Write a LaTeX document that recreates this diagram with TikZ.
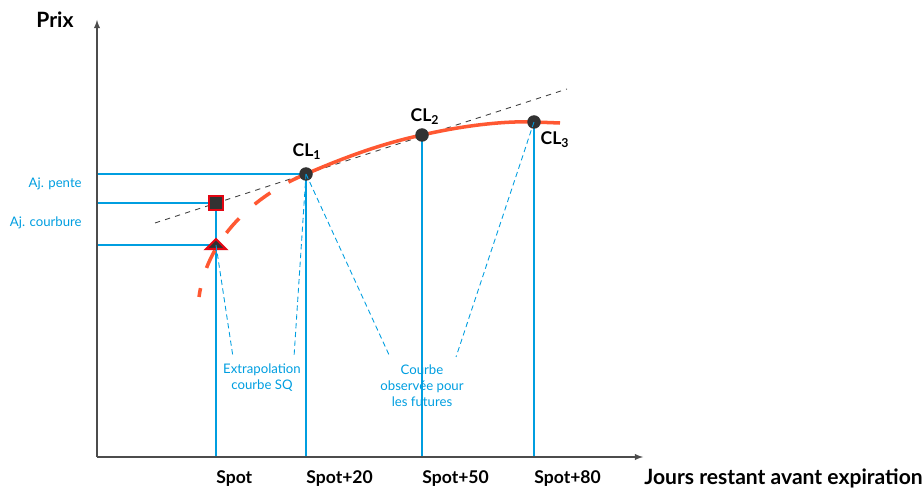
\documentclass[tikz,border=0pt]{standalone}
\usepackage{fontspec}
\setmainfont{Lato}
\usepackage{tikz}
\usetikzlibrary{arrows,positioning,calc,backgrounds}
\definecolor{bleu}{RGB}{0,158,224}
\definecolor{orangec}{RGB}{255,88,50}
\definecolor{rouge}{RGB}{227,6,19}
\definecolor{noir}{RGB}{50,50,50}

\begin{document}
\begin{tikzpicture}[x=0.02cm,y=-0.02cm,
    axe/.style={draw=black!70, line width=0.6pt, -latex},
    repere/.style={draw=bleu, line width=0.6pt},
    lien/.style={draw=bleu, densely dashed, line width=0.5pt},
    courbe/.style={draw=orangec, line width=2pt},
    pt/.style={circle, fill=noir, inner sep=0pt, minimum size=0.27cm},
    carre/.style={rectangle, fill=noir, draw=rouge, line width=1.3pt, inner sep=0pt, minimum size=0.28cm},
    lbl/.style={font=\bfseries\fontsize{10}{12}\selectfont, inner sep=0pt},
    titre/.style={font=\bfseries\fontsize{12}{14}\selectfont, inner sep=0pt},
    txt/.style={text=bleu, font=\fontsize{7.5}{9.2}\selectfont, align=center, inner sep=0pt}]

    \useasboundingbox (0,0) rectangle (922,489);

    % axes
    \coordinate (O) at (97,457);
    \draw[axe] (O) -- (97,20);
    \draw[axe] (O) -- (643,457);
    \node[titre] (prix) at (55,20) {Prix};
    \node[titre, anchor=west] (jours) at (644,478) {Jours restant avant expiration};

    % points de la courbe
    \node[pt] (cl1) at (306,174) {};
    \node[pt] (cl2) at (422,135) {};
    \node[pt] (cl3) at (534,122) {};
    \node[lbl] (lcl1) at (307,152) {CL\textsubscript{1}};
    \node[lbl] (lcl2) at (425,117) {CL\textsubscript{2}};
    \node[lbl] (lcl3) at (555,140) {CL\textsubscript{3}};

    % ajustements
    \node[carre] (sq) at (216,203) {};
    \coordinate (tri) at (216,245);
    \filldraw[fill=noir, draw=rouge, line width=1.2pt, line join=miter]
        ($(tri)+(-10,4)$) -- ($(tri)+(0,-6)$) -- ($(tri)+(10,4)$) -- cycle;

    \begin{scope}[on background layer]
        \draw[repere] (O |- cl1) -- (cl1.center);
        \draw[repere] (O |- sq) -- (sq.center);
        \draw[repere] (O |- tri) -- (tri);
        \draw[repere] (sq.center) -- (sq |- O);
        \draw[repere] (cl1.center) -- (cl1 |- O);
        \draw[repere] (cl2.center) -- (cl2 |- O);
        \draw[repere] (cl3.center) -- (cl3 |- O);

        % tangente
        \coordinate (tg1) at (155,223);
        \coordinate (tg2) at (567,89);
        \draw[dashed, black!75, line width=0.5pt] (tg1) -- (tg2);

        % courbe observee et extrapolation
        \draw[courbe] (cl1.center) .. controls (350,155) and (385,143) .. (cl2.center)
            .. controls (470,124) and (510,121) .. (cl3.center) -- (560,123);
        \draw[courbe, dash pattern=on 11pt off 12pt] (cl1.center) .. controls (255,195) and (207,238) .. (199,297);
    \end{scope}

    % textes
    \node[txt, anchor=east] (pente) at (82,184) {Aj. pente};
    \node[txt, anchor=east] (courbure) at (82,223) {Aj. courbure};
    \node[txt] (extra) at (262,378) {Extrapolation\\courbe SQ};
    \node[txt] (obs) at (422,386) {Courbe\\observée pour\\les futures};

    \node[lbl, anchor=west] (s0) at (216,479) {Spot};
    \node[lbl, anchor=west] (s20) at (306,479) {Spot+20};
    \node[lbl, anchor=west] (s50) at (422,479) {Spot+50};
    \node[lbl, anchor=west] (s80) at (534,479) {Spot+80};

    % renvois
    \coordinate (e1) at (233,357);
    \coordinate (e2) at (294,357);
    \coordinate (o1) at (390,357);
    \coordinate (o2) at (456,357);
    \draw[lien] (tri) -- (e1);
    \draw[lien] (cl1.center) -- (e2);
    \draw[lien] (cl1.center) -- (o1);
    \draw[lien] (cl3.center) -- (o2);
\end{tikzpicture}
\end{document}
